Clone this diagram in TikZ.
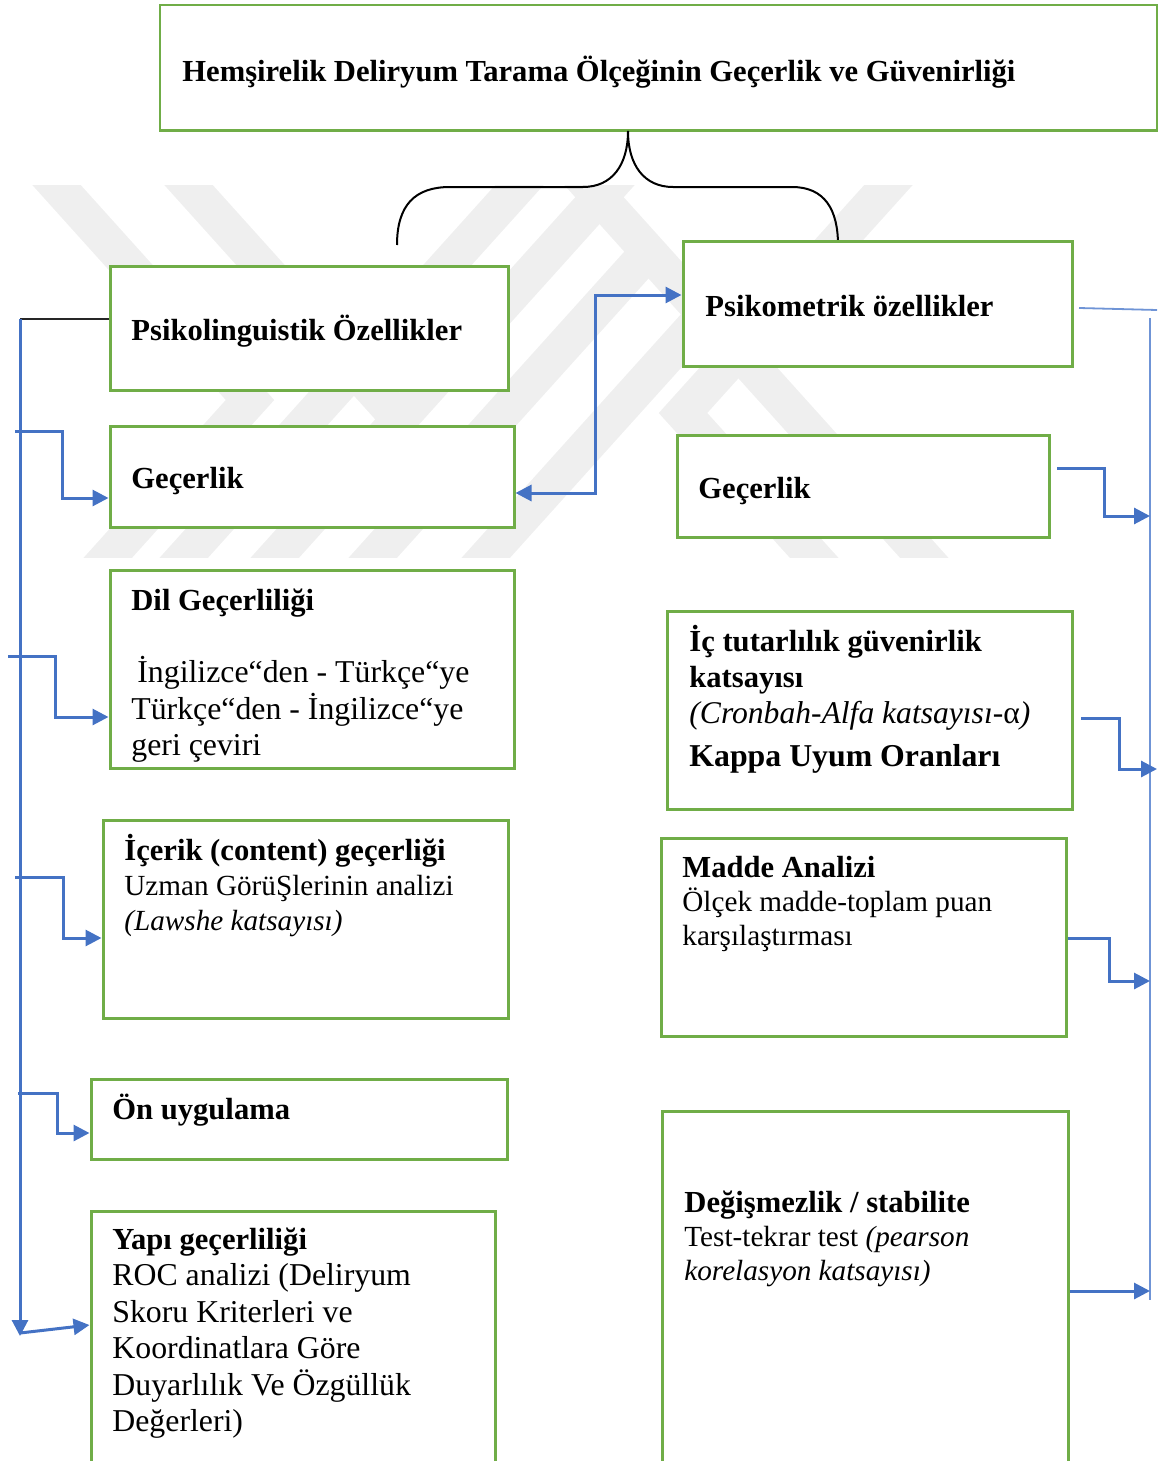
\documentclass[tikz,border=0pt]{standalone}
\usepackage{fontspec}
\setmainfont{Liberation Serif}
\usetikzlibrary{arrows.meta,fit}

\definecolor{boxgreen}{HTML}{70AD47}
\definecolor{linkblue}{HTML}{4472C4}
\definecolor{thinblue}{HTML}{6F94D6}
\definecolor{wmgray}{HTML}{EFEFEF}

% a framed box given by its corners (pixel grid, y downwards)
\newcommand\greenbox[5]{%
  \path (#2,#3) coordinate (#1-nw) (#4,#5) coordinate (#1-se);
  \node[box, fit=(#1-nw)(#1-se)] (#1) {};}

\begin{document}
\begin{tikzpicture}[x=0.5pt,y=-0.5pt,
  box/.style={draw=boxgreen, line width=1.5pt, fill=white, inner sep=0pt},
  lbl/.style={anchor=base west, inner sep=0pt},
  hd/.style={lbl, font=\fontsize{15.3pt}{18pt}\selectfont\bfseries},
  hdl/.style={lbl, font=\fontsize{15.9pt}{18pt}\selectfont\bfseries},
  tx/.style={lbl, font=\fontsize{15.9pt}{18pt}\selectfont},
  txs/.style={lbl, font=\fontsize{14.6pt}{18pt}\selectfont},
  txi/.style={lbl, font=\fontsize{15.8pt}{18pt}\selectfont\itshape},
  tipA/.tip={Triangle[length=8pt,width=8pt]},
  link/.style={draw=linkblue, line width=1.5pt, -tipA},
  link2/.style={draw=linkblue, line width=1.5pt, tipA-tipA},
  thinlink/.style={draw=thinblue, line width=0.9pt},
  wm/.style={draw=wmgray, line width=18pt, line join=miter, line cap=butt}]

\useasboundingbox (0,0) rectangle (1166,1461);

% faint background emblem made of diagonal stripes
\begin{scope}
  \clip (0,185) rectangle (1010,557);
  \draw[wm] (43,170) -- (250,400) -- (95,572);
  \draw[wm] (175,170) -- (400,420);
  \draw[wm] (171,572) -- (533,170);
  \draw[wm] (262,572) -- (624,170);
  \draw[wm] (360,572) -- (641,260);
  \draw[wm] (473,572) -- (718,300);
  \draw[wm] (575,170) -- (937,572);
  \draw[wm] (902,170) -- (683,413) -- (827,572);
\end{scope}

% title box
\path (160,5) coordinate (title-nw) (1157,130) coordinate (title-se);
\node[box, line width=0.9pt, fit=(title-nw)(title-se)] (title) {};
\draw[boxgreen, line width=1.5pt] (title.south west) -- (title.south east);
\node[hd] (title-t) at (182,82) {Hemşirelik Deliryum Tarama Ölçeğinin Geçerlik ve Güvenirliği};

% brace splitting into the two branches
\coordinate (tip) at (628,131);
\coordinate (lft) at (397,245);
\coordinate (rgt) at (838,245);
\draw[black, line width=1pt]
  (lft) .. controls (397,205) and (415,187) .. (450,187) -- (583,187)
  .. controls (612,187) and (628,165) .. (tip)
  .. controls (628,165) and (644,187) .. (673,187) -- (792,187)
  .. controls (825,187) and (838,210) .. (rgt);

% left column
\greenbox{p1}{110}{266}{508}{390}
\node[hd] (p1-t) at (131,340) {Psikolinguistik Özellikler};

\greenbox{l1}{110}{426}{514}{527}
\node[hd] (l1-t) at (131,488) {Geçerlik};

\greenbox{l2}{110}{570}{514}{768}
\node[hd] (l2-1) at (131,610) {Dil Geçerliliği};
\node[tx] (l2-2) at (137,682) {İngilizce“den - Türkçe“ye};
\node[tx] (l2-3) at (131,719) {Türkçe“den - İngilizce“ye};
\node[tx] (l2-4) at (131,755) {geri çeviri};

\greenbox{l3}{103}{820}{508}{1018}
\node[hd] (l3-1) at (124,860) {İçerik (content) geçerliği};
\node[txs] (l3-2) at (124,895) {Uzman GörüŞlerinin analizi};
\node[txs] (l3-3) at (124,930) {\itshape (Lawshe katsayısı)};

\greenbox{l4}{91}{1079}{507}{1159}
\node[hd] (l4-t) at (112,1119) {Ön uygulama};

\greenbox{l5}{91}{1211}{495}{1480}
\node[hd] (l5-1) at (112,1249) {Yapı geçerliliği};
\node[tx] (l5-2) at (112,1285) {ROC analizi (Deliryum};
\node[tx] (l5-3) at (112,1322) {Skoru Kriterleri ve};
\node[tx] (l5-4) at (112,1358) {Koordinatlara Göre};
\node[tx] (l5-5) at (112,1395) {Duyarlılık Ve Özgüllük};
\node[tx] (l5-6) at (112,1431) {Değerleri)};

% right column
\greenbox{p2}{683}{241}{1072}{366}
\node[hd] (p2-t) at (705,316) {Psikometrik özellikler};

\greenbox{r1}{677}{435}{1049}{537}
\node[hd] (r1-t) at (698,498) {Geçerlik};

\greenbox{r2}{667}{611}{1072}{809}
\node[hd] (r2-1) at (689,651) {İç tutarlılık güvenirlik};
\node[hd] (r2-2) at (689,687) {katsayısı};
\node[txi] (r2-3) at (689,723) {(Cronbah-Alfa katsayısı-\textup{α})};
\node[hdl] (r2-4) at (689,766) {Kappa Uyum Oranları};

\greenbox{r3}{661}{838}{1066}{1036}
\node[hd] (r3-1) at (682,877) {Madde Analizi};
\node[txs] (r3-2) at (682,911) {Ölçek madde-toplam puan};
\node[txs] (r3-3) at (682,945) {karşılaştırması};

\greenbox{r4}{662}{1111}{1068}{1480}
\node[hd] (r4-1) at (684,1212) {Değişmezlik / stabilite};
\node[txs] (r4-2) at (684,1246) {Test-tekrar test \textit{(pearson}};
\node[txs] (r4-3) at (684,1280) {\itshape korelasyon katsayısı)};

% left collector line and its branches
\coordinate (lbus) at (20,319);
\coordinate (lbus-end) at (20,1336);
\coordinate (lbus-foot) at (20,1333);
\draw[black!85, line width=0.9pt] (p1.west |- lbus) -- (lbus);
\draw[link] (lbus) -- (lbus-end);
\draw[link] (lbus-foot) -- (l5.west |- 0,1325);

\coordinate (b1) at (15,431);
\coordinate (b2) at (8,656);
\coordinate (b3) at (15,877);
\coordinate (b4) at (18,1093);
\draw[link] (b1) -- ++(47,0) |- (l1.west |- 0,498);
\draw[link] (b2) -- ++(47,0) |- (l2.west |- 0,717);
\draw[link] (b3) -- ++(48,0) |- (l3.west |- 0,938);
\draw[link] (b4) -- ++(39,0) |- (l4.west |- 0,1133);

% link between the two branches
\draw[link2] (l1.east |- 0,493) -- ++(80,0) |- (p2.west |- 0,295);

% right collector line and its branches
\coordinate (rbus) at (1150,318);
\coordinate (rbus-end) at (1150,1300);
\coordinate (rbus-b) at (1157,318);
\coordinate (p2-out) at (1079,308);
\coordinate (p2-out-end) at (1157,310);
\draw[thinlink] (p2-out) -- (p2-out-end);
\draw[thinlink] (rbus) -- (rbus-end);

\coordinate (c1) at (1057,468);
\coordinate (c2) at (1081,718);
\draw[link] (c1) -- ++(47,0) |- (rbus |- 0,516);
\draw[link] (c2) -- ++(38,0) |- (rbus-b |- 0,769);
\draw[link] (r3.east |- 0,938) -- ++(42,0) |- (rbus |- 0,981);
\draw[link] (r4.east |- 0,1291) -- (rbus |- 0,1291);

\end{tikzpicture}
\end{document}
